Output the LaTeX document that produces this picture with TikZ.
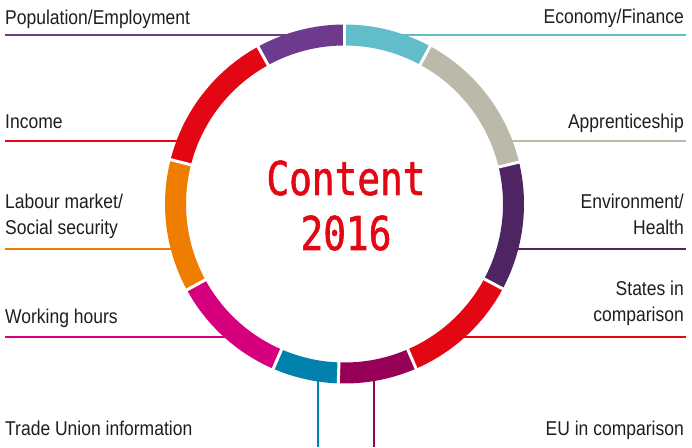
\documentclass[tikz,border=0pt]{standalone}
\usepackage{fontspec}
\setmainfont{Liberation Sans}
\newfontfamily\labfont{Liberation Sans}[FakeStretch=0.875]
\newfontfamily\cfont{DejaVu Sans Mono}[FakeStretch=0.81,FakeBold=1.2]
\definecolor{cCyan}{RGB}{98,189,203}
\definecolor{cGray}{RGB}{187,185,170}
\definecolor{cDPurple}{RGB}{79,36,98}
\definecolor{cRed}{RGB}{227,6,19}
\definecolor{cMaroon}{RGB}{150,0,86}
\definecolor{cTeal}{RGB}{0,130,173}
\definecolor{cMagenta}{RGB}{214,0,126}
\definecolor{cOrange}{RGB}{239,125,0}
\definecolor{cPurple}{RGB}{110,58,142}
\definecolor{cText}{RGB}{30,30,30}
\begin{document}
\begin{tikzpicture}[x=1pt,y=1pt,
  lab/.style={inner sep=0pt, text=cText, font=\labfont\fontsize{20}{26.7}\selectfont},
  labL/.style={lab, anchor=base west, align=left},
  labR/.style={lab, anchor=base east, align=right},
  conn/.style={line width=2pt},
  seg/.style={line width=21pt},
  gap/.style={white, line width=3pt}]
\useasboundingbox (0,0) rectangle (692,447);
\coordinate (c) at (344.5,243);

% connectors (ends hidden under the ring)
\coordinate (popA) at (5,412);    \coordinate (popB) at (300,412);
\coordinate (ecoA) at (390,412);  \coordinate (ecoB) at (686,412);
\coordinate (incA) at (5,305.7);  \coordinate (incB) at (188,305.7);
\coordinate (appA) at (501,305.7);\coordinate (appB) at (686,305.7);
\coordinate (labA) at (5,197.7);  \coordinate (labB) at (182,197.7);
\coordinate (envA) at (507,197.7);\coordinate (envB) at (686,197.7);
\coordinate (wrkA) at (5,110.3);  \coordinate (wrkB) at (240,110.3);
\coordinate (staA) at (449,110.3);\coordinate (staB) at (686,110.3);
\coordinate (truA) at (318.3,76); \coordinate (truB) at (318.3,0);
\coordinate (euA) at (374.3,76);  \coordinate (euB) at (374.3,0);

\draw[conn, cPurple] (popA) -- (popB);
\draw[conn, cCyan] (ecoA) -- (ecoB);
\draw[conn, cRed] (incA) -- (incB);
\draw[conn, cGray] (appA) -- (appB);
\draw[conn, cOrange] (labA) -- (labB);
\draw[conn, cDPurple] (envA) -- (envB);
\draw[conn, cMagenta] (wrkA) -- (wrkB);
\draw[conn, cRed] (staA) -- (staB);
\draw[conn, cTeal] (truA) -- (truB);
\draw[conn, cMaroon] (euA) -- (euB);

% ring
\draw[seg, cCyan]    (c) ++(90:169)     arc[start angle=90,    end angle=61.5,   radius=169];
\draw[seg, cGray]    (c) ++(61.5:169)   arc[start angle=61.5,  end angle=13.5,   radius=169];
\draw[seg, cDPurple] (c) ++(13.5:169)   arc[start angle=13.5,  end angle=-28.2,  radius=169];
\draw[seg, cRed]     (c) ++(-28.2:169)  arc[start angle=-28.2, end angle=-66.5,  radius=169];
\draw[seg, cMaroon]  (c) ++(-66.5:169)  arc[start angle=-66.5, end angle=-92,    radius=169];
\draw[seg, cTeal]    (c) ++(-92:169)    arc[start angle=-92,   end angle=-113.4, radius=169];
\draw[seg, cMagenta] (c) ++(-113.4:169) arc[start angle=-113.4,end angle=-151.4, radius=169];
\draw[seg, cOrange]  (c) ++(-151.4:169) arc[start angle=-151.4,end angle=-194.3, radius=169];
\draw[seg, cRed]     (c) ++(-194.3:169) arc[start angle=-194.3,end angle=-241.2, radius=169];
\draw[seg, cPurple]  (c) ++(-241.2:169) arc[start angle=-241.2,end angle=-270,   radius=169];
\foreach \a in {90,61.5,13.5,-28.2,-66.5,-92,-113.4,-151.4,-194.3,-241.2}
  \draw[gap] (c) ++(\a:155) -- ++(\a:28);

% labels (multi-line nodes: base anchor is the last line's baseline)
\node[labL] (pop) at (5,422.7) {Population/Employment};
\node[labR] (eco) at (684,423) {Economy/Finance};
\node[labL] (inc) at (5,318.7) {Income};
\node[labR] (app) at (684,318.7) {Apprenticeship};
\node[labL] (lab) at (5,212) {Labour market/\\Social security};
\node[labR] (env) at (684,212) {Environment/\\Health};
\node[labL] (wrk) at (5,123.7) {Working hours};
\node[labR] (sta) at (684,125.3) {States in\\comparison};
\node[labL] (tru) at (5,12) {Trade Union information};
\node[labR] (eu) at (684,12) {EU in comparison};

\node[inner sep=0pt, anchor=base, text=cRed, align=center,
      font=\cfont\fontsize{46.6}{55}\selectfont] (title) at (346,197) {Content\\2016};
\end{tikzpicture}
\end{document}
